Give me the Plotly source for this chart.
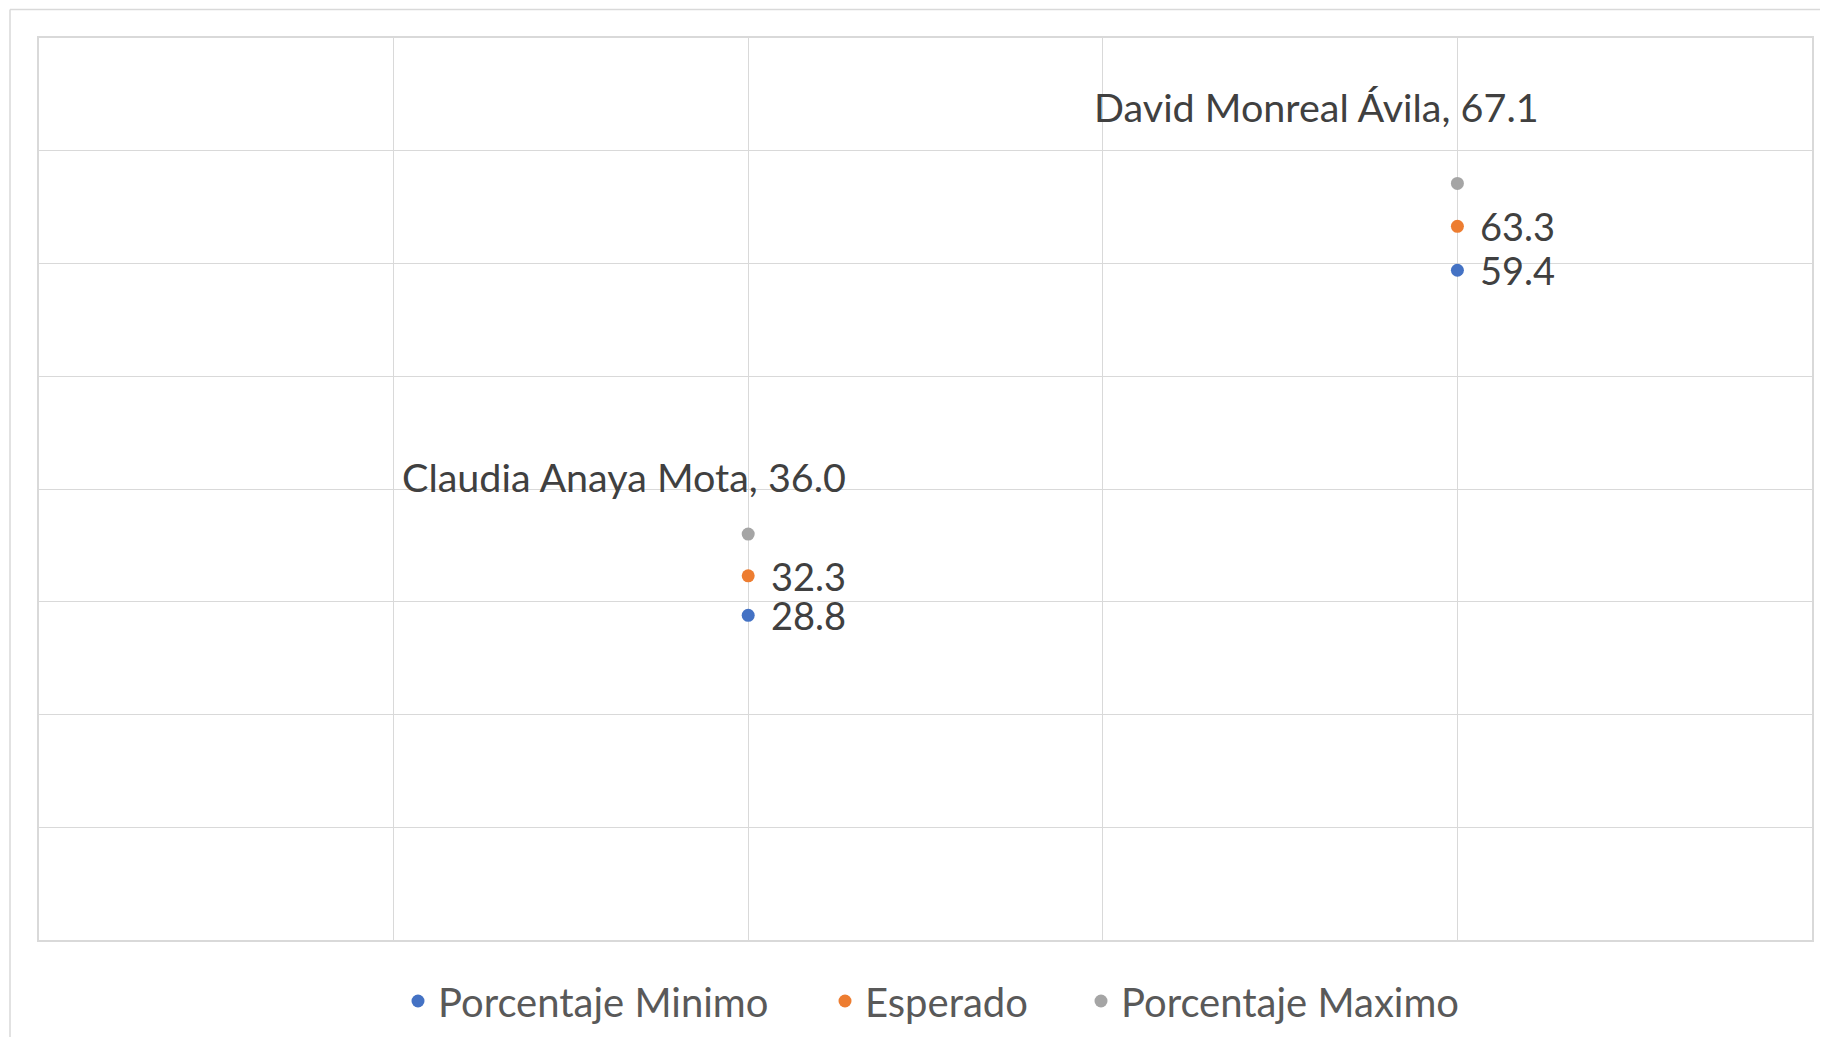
import plotly.graph_objects as go

candidates = ["Claudia Anaya Mota", "David Monreal Ávila"]
x_pos = [1, 2]
pct_min = [28.8, 59.4]
esperado = [32.3, 63.3]
pct_max = [36.0, 67.1]

series_names = ["Porcentaje Minimo", "Esperado", "Porcentaje Maximo"]
colors = ["#4472C4", "#ED7D31", "#A5A5A5"]

FONT = "Lato, 'Open Sans', sans-serif"
OFF = 8  # page body margin
W, H = 1828 - 2 * OFF, 1045 - 2 * OFF
ML, MT = 39 - OFF, 38 - OFF
PR, PB = 1812 - OFF, 940 - OFF
MR, MB = W - PR, H - PB
PW, PH = W - ML - MR, H - MT - MB

fig = go.Figure()
legend_ids = ["legend", "legend2", "legend3"]
for i, (name, vals) in enumerate(zip(series_names, [pct_min, esperado, pct_max])):
    fig.add_trace(go.Scatter(
        x=x_pos, y=vals, name=name, mode="markers",
        marker=dict(color=colors[i], size=13),
        hoverinfo="skip",
        legend=legend_ids[i],
    ))

annotations = []
# value labels to the right of minimum / expected points
for vals in [pct_min, esperado]:
    for xp, v in zip(x_pos, vals):
        annotations.append(dict(
            x=xp, y=v, xref="x", yref="y", text=f"{v:.1f}", showarrow=False,
            xanchor="left", yanchor="middle", xshift=21, yshift=0,
            font=dict(family=FONT, size=38, color="#404040"),
        ))

label_shift = [(-124, 58), (-141, 77)]
for c, xp, v, (dx, dy) in zip(candidates, x_pos, pct_max, label_shift):
    annotations.append(dict(
        x=xp, y=v, xref="x", yref="y", text=f"{c}, {v:.1f}", showarrow=False,
        xanchor="center", yanchor="middle", xshift=dx, yshift=dy,
        font=dict(family=FONT, size=39.5, color="#404040"),
    ))

def px_x(p):
    return (p - OFF - ML) / PW

def px_y(p):
    return (PB - (p - OFF)) / PH

legend_left = [398, 825, 1081]
legend_cy = 1001
legends = {}
for lid, lx in zip(legend_ids, legend_left):
    legends[lid] = dict(
        x=px_x(lx), y=px_y(legend_cy), xanchor="left", yanchor="middle",
        orientation="h", font=dict(family=FONT, size=40, color="#595959"),
        bgcolor="rgba(0,0,0,0)", borderwidth=0,
    )

shapes = [
    dict(type="line", xref="paper", yref="paper", x0=px_x(10), x1=px_x(1840), y0=px_y(9.5), y1=px_y(9.5),
         line=dict(color="#D9D9D9", width=1.5)),
    dict(type="line", xref="paper", yref="paper", x0=px_x(10), x1=px_x(10), y0=px_y(9.5), y1=px_y(1060),
         line=dict(color="#D9D9D9", width=1.5)),
]

axis_common = dict(
    showticklabels=False, ticks="", showgrid=True, gridcolor="#D9D9D9", gridwidth=1,
    zeroline=False, showline=True, mirror=True, linecolor="#D9D9D9", linewidth=2,
    fixedrange=True,
)

fig.update_layout(
    width=W, height=H,
    margin=dict(l=ML, r=MR, t=MT, b=MB, autoexpand=False),
    paper_bgcolor="white", plot_bgcolor="white",
    xaxis=dict(range=[0, 2.5], dtick=0.5, **axis_common),
    yaxis=dict(range=[0, 80], dtick=10, **axis_common),
    annotations=annotations,
    shapes=shapes,
    showlegend=True,
    **legends,
)

fig.write_html("out.html")
